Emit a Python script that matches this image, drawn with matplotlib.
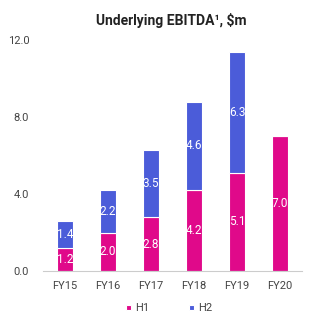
import matplotlib.pyplot as plt
import numpy as np

plt.rcParams['font.family'] = ['Roboto', 'DejaVu Sans']

years = ['FY15', 'FY16', 'FY17', 'FY18', 'FY19', 'FY20']
h1 = [1.2, 2.0, 2.8, 4.2, 5.1, 7.0]
h2 = [1.4, 2.2, 3.5, 4.6, 6.3, 0.0]
yticks = [0.0, 4.0, 8.0, 12.0]

c_h1 = '#E0098A'
c_h2 = '#4B5CD9'

fig = plt.figure(figsize=(3.29, 3.23), dpi=100)
ax = fig.add_axes([0.131, 0.161, 0.787, 0.715])

x = np.arange(len(years))
w = 0.39
b1 = ax.bar(x, h1, w, color=c_h1, edgecolor='white', linewidth=0.8, label='H1')
b2 = ax.bar(x, h2, w, bottom=h1, color=c_h2, edgecolor='white', linewidth=0.8, label='H2')

for i in range(len(years)):
    ax.text(x[i], h1[i] / 2, f'{h1[i]:.1f}', ha='center', va='center',
            color='white', fontsize=8.5)
    if h2[i] > 0:
        ax.text(x[i], h1[i] + h2[i] / 2, f'{h2[i]:.1f}', ha='center', va='center',
                color='white', fontsize=8.5)

ax.set_xlim(-0.51, 5.51)
ax.set_ylim(0, 12)
ax.set_yticks(yticks)
ax.set_yticklabels([f'{t:.1f}' for t in yticks])
ax.set_xticks(x)
ax.set_xticklabels(years)
ax.tick_params(axis='both', length=0, labelsize=8, colors='#444444')
ax.tick_params(axis='y', pad=10)
ax.tick_params(axis='x', pad=7)
for s in ['top', 'right', 'left']:
    ax.spines[s].set_visible(False)
ax.spines['bottom'].set_color('#cccccc')

fig.text(0.52, 0.935, 'Underlying EBITDA¹, $m', ha='center', va='center',
         fontsize=10, fontweight='bold', color='#222222')

fig.legend(handles=[b1, b2], labels=['H1', 'H2'], loc='center',
           bbox_to_anchor=(0.515, 0.045), ncol=2, frameon=False, fontsize=8,
           handlelength=0.4, handleheight=0.4, columnspacing=3.6, handletextpad=0.4,
           labelcolor='#444444')

fig.savefig('out.png', dpi=100)
